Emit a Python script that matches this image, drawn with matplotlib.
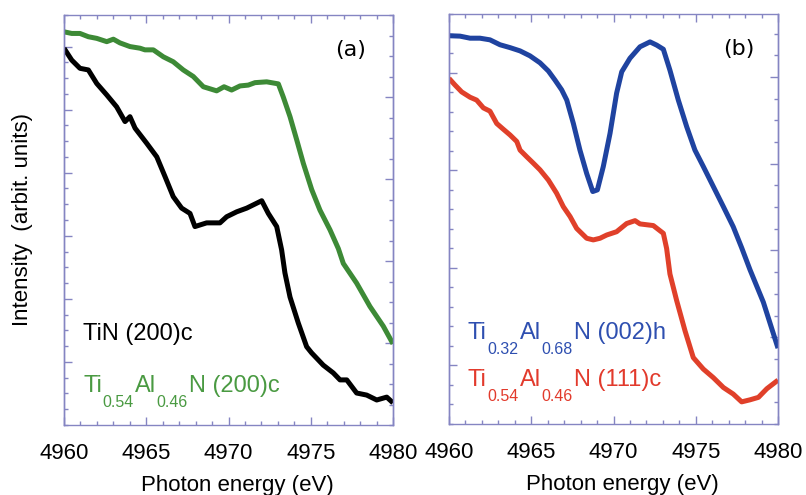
import matplotlib
matplotlib.use("Agg")
import matplotlib.pyplot as plt
from matplotlib.ticker import MultipleLocator, FixedLocator, NullFormatter

# ---------------- data (arbitrary intensity units, 0-100 of plot height) -------------
tin_e = [4960.0, 4960.47, 4960.97, 4961.48, 4961.99, 4962.60, 4963.20, 4963.71, 4964.01,
         4964.32, 4965.03, 4965.64, 4966.14, 4966.64, 4967.15, 4967.66, 4967.96, 4968.67,
         4969.48, 4969.89, 4970.50, 4971.11, 4972.02, 4972.42, 4972.93, 4973.23, 4973.43,
         4973.74, 4974.24, 4974.75, 4975.05, 4975.76, 4976.37, 4976.78, 4977.19, 4977.79,
         4978.40, 4979.01, 4979.62, 4980.0]
tin_i = [91.9, 89.0, 87.0, 86.6, 83.3, 80.5, 77.6, 74.0, 75.2,
         72.4, 68.7, 65.4, 60.6, 55.7, 52.9, 51.6, 48.4, 49.3,
         49.3, 50.8, 52.0, 52.9, 54.7, 51.6, 48.4, 42.7, 37.1,
         31.2, 24.9, 19.1, 17.6, 14.6, 12.7, 11.0, 11.0, 7.8,
         7.3, 6.1, 6.8, 5.4]

tial200_e = [4960.0, 4960.47, 4960.97, 4961.48, 4961.99, 4962.60, 4963.0, 4963.40, 4964.01,
             4964.62, 4964.92, 4965.43, 4966.04, 4966.64, 4967.25, 4967.86, 4968.47, 4969.28,
             4969.73, 4970.19, 4970.70, 4971.20, 4971.61, 4972.32, 4973.03, 4973.33, 4973.74,
             4974.15, 4974.55, 4975.06, 4975.56, 4976.17, 4976.68, 4976.98, 4977.79, 4978.60,
             4979.41, 4980.0]
tial200_i = [95.9, 95.5, 95.5, 94.7, 94.3, 93.5, 94.1, 93.2, 92.3,
             91.9, 91.5, 91.5, 89.8, 88.6, 86.6, 85.0, 82.5, 81.5,
             82.5, 81.7, 82.7, 82.9, 83.5, 83.7, 83.2, 80.0, 75.2,
             69.5, 63.8, 57.4, 52.4, 47.6, 43.0, 39.4, 34.6, 28.9,
             24.1, 19.8]

tial002_e = [4960.0, 4960.67, 4961.28, 4961.88, 4962.49, 4963.10, 4963.71, 4964.32, 4964.92,
             4965.53, 4966.04, 4966.44, 4966.85, 4967.16, 4967.56, 4967.96, 4968.37, 4968.74,
             4969.02, 4969.38, 4969.79, 4970.19, 4970.50, 4971.00, 4971.61, 4972.22, 4972.63,
             4973.03, 4973.43, 4973.94, 4974.45, 4974.95, 4975.46, 4976.07, 4976.68, 4977.28,
             4977.79, 4978.30, 4979.11, 4980.0]
tial002_i = [94.7, 94.6, 94.1, 94.1, 93.7, 92.5, 91.8, 91.0, 89.8,
             88.1, 86.1, 83.9, 81.5, 79.0, 73.3, 66.8, 61.1, 56.7,
             57.1, 62.8, 70.9, 80.7, 85.9, 89.2, 92.0, 93.2, 92.4,
             91.4, 86.3, 79.0, 72.5, 66.8, 62.8, 57.9, 53.0, 48.1,
             43.0, 37.6, 29.7, 18.5]

tial111_e = [4960.0, 4960.36, 4960.77, 4961.28, 4961.68, 4962.09, 4962.49, 4962.90, 4963.30,
             4963.71, 4964.12, 4964.32, 4964.72, 4965.13, 4965.53, 4966.04, 4966.54, 4966.95,
             4967.36, 4967.76, 4968.37, 4968.77, 4969.18, 4969.59, 4970.19, 4970.80, 4971.31,
             4971.61, 4972.42, 4973.03, 4973.23, 4973.43, 4973.84, 4974.35, 4974.85, 4975.46,
             4976.07, 4976.68, 4977.28, 4977.79, 4978.30, 4978.81, 4979.32, 4980.0]
tial111_i = [84.3, 82.7, 81.0, 79.7, 79.0, 77.1, 76.3, 73.3, 71.9,
             70.5, 68.9, 66.8, 65.2, 63.6, 62.0, 59.5, 56.3, 53.0,
             50.6, 47.7, 45.3, 44.9, 45.3, 46.1, 46.9, 48.9, 49.6,
             48.8, 48.4, 46.5, 42.8, 36.6, 30.1, 22.7, 16.2, 13.4,
             11.3, 8.9, 7.3, 5.4, 5.9, 6.5, 8.6, 10.7]

x_ticks = [4960, 4965, 4970, 4975, 4980]
panel_labels = ["(a)", "(b)"]
xlabel = "Photon energy (eV)"
ylabel = "Intensity  (arbit. units)"

# ---------------- style -------------
C_BLACK = "#000000"
C_GREEN = "#3d8a36"
C_BLUE = "#1f43a0"
C_RED = "#e0402a"
C_GREEN_T = "#4a9a42"
C_BLUE_T = "#2e4fb0"
C_RED_T = "#e23a2c"
C_AX = "#8585c2"
FONT = "Liberation Sans"

fig = plt.figure(figsize=(8.06, 4.95), dpi=100)
ax_a = fig.add_axes([64/806, 70/495, 329/806, 410/495])
ax_b = fig.add_axes([449/806, 71/495, 329/806, 410/495])


def style_axes(ax, lfac, lmaj, rfac, rmaj):
    ax.set_xlim(4960, 4980)
    ax.set_ylim(0, 100)
    ax.xaxis.set_major_locator(FixedLocator(x_ticks))
    ax.xaxis.set_minor_locator(MultipleLocator(1))
    for s in ax.spines.values():
        s.set_color(C_AX)
        s.set_linewidth(1.0)
    ax.tick_params(axis="x", which="both", direction="in", top=True, bottom=True,
                   colors=C_AX, labelcolor="black", labelsize=16, pad=13)
    ax.tick_params(axis="x", which="major", length=6, width=1)
    ax.tick_params(axis="x", which="minor", length=3, width=1)
    for lab in ax.get_xticklabels():
        lab.set_fontfamily(FONT)
    ax.tick_params(axis="y", which="both", left=False, right=False,
                   labelleft=False, labelright=False)
    for side, fac, maj in (("left", lfac, lmaj), ("right", rfac, rmaj)):
        sec = ax.secondary_yaxis(side, functions=(lambda y, f=fac: y * f,
                                                  lambda y, f=fac: y / f))
        sec.yaxis.set_major_locator(FixedLocator(maj))
        sec.yaxis.set_minor_locator(MultipleLocator(1))
        sec.yaxis.set_major_formatter(NullFormatter())
        sec.yaxis.set_minor_formatter(NullFormatter())
        sec.tick_params(axis="y", which="both", direction="in", colors=C_AX, width=1)
        sec.tick_params(axis="y", which="major", length=6)
        sec.tick_params(axis="y", which="minor", length=3)
        for s in sec.spines.values():
            s.set_color(C_AX)
            s.set_linewidth(1.0)


style_axes(ax_a, 0.26, [4, 8, 12, 16, 20, 24], 0.20, [4, 8, 12, 16])
style_axes(ax_b, 0.21, [3, 8, 13, 18], 0.189, [4, 8, 12, 16])

lw = 3.6
ax_a.plot(tin_e, tin_i, color=C_BLACK, lw=lw, solid_joinstyle="round", solid_capstyle="butt")
ax_a.plot(tial200_e, tial200_i, color=C_GREEN, lw=lw, solid_joinstyle="round", solid_capstyle="butt")
ax_b.plot(tial002_e, tial002_i, color=C_BLUE, lw=lw, solid_joinstyle="round", solid_capstyle="butt")
ax_b.plot(tial111_e, tial111_i, color=C_RED, lw=lw, solid_joinstyle="round", solid_capstyle="butt")

for ax in (ax_a, ax_b):
    ax.text(0.526, -0.162, xlabel, transform=ax.transAxes, ha="center", va="baseline",
            fontsize=16, fontfamily=FONT)

ax_a.text(0.87, 0.915, panel_labels[0], transform=ax_a.transAxes, ha="center", va="center",
          fontsize=16, fontfamily="DejaVu Sans")
ax_b.text(0.88, 0.915, panel_labels[1], transform=ax_b.transAxes, ha="center", va="center",
          fontsize=16, fontfamily="DejaVu Sans")

fig.text(23/806, (495 - 220) / 495, ylabel, rotation=90, ha="center", va="center",
         fontsize=16, fontfamily=FONT)


def chem(ax, x, y, parts, color, size=17, subsize=11.5, subdrop=-10.5):
    t = ax.text(x, y, parts[0][0], transform=ax.transAxes, ha="left", va="baseline",
                fontsize=size, color=color, fontfamily=FONT)
    for txt, sub in parts[1:]:
        t = ax.annotate(txt, xy=(1, y), xycoords=(t, ax.transAxes),
                        xytext=(0.6, subdrop if sub else 0), textcoords="offset points",
                        ha="left", va="baseline", color=color, fontfamily=FONT,
                        fontsize=subsize if sub else size)
    return t


chem(ax_a, (83 - 64) / 329, (425 - 340) / 410, [("TiN (200)c", False)], C_BLACK)
chem(ax_a, (83 - 64) / 329, (425 - 392) / 410,
     [("Ti", False), ("0.54", True), ("Al", False), ("0.46", True), ("N (200)c", False)], C_GREEN_T)
chem(ax_b, (468 - 449) / 329, (424 - 339) / 410,
     [("Ti", False), ("0.32", True), ("Al", False), ("0.68", True), ("N (002)h", False)], C_BLUE_T)
chem(ax_b, (468 - 449) / 329, (424 - 386) / 410,
     [("Ti", False), ("0.54", True), ("Al", False), ("0.46", True), ("N (111)c", False)], C_RED_T)

fig.savefig("out.png", dpi=100)
